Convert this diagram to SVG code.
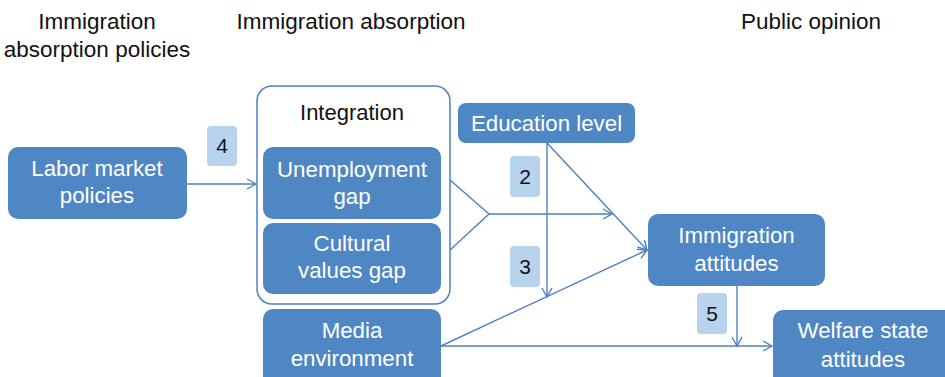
<svg xmlns="http://www.w3.org/2000/svg" width="945" height="377" viewBox="0 0 945 377">
  <defs>
    <marker id="arrow" markerWidth="12" markerHeight="12" refX="10" refY="6" orient="auto" markerUnits="userSpaceOnUse">
      <path d="M1,1 L10,6 L1,11" fill="none" stroke="#4a82c4" stroke-width="1.4"/>
    </marker>
  </defs>
  <style>
    .head { font-family: "Liberation Sans", Arial, sans-serif; font-size: 22.5px; fill: #111; text-anchor: middle; }
    .box { fill: #4f87c5; }
    .lbl { font-family: "Liberation Sans", Arial, sans-serif; font-size: 22.3px; fill: #ffffff; text-anchor: middle; }
    .badge { fill: #b8d3ee; }
    .num { font-family: "Liberation Sans", Arial, sans-serif; font-size: 21px; fill: #111; text-anchor: middle; }
    .edge { fill: none; stroke: #4a82c4; stroke-width: 1.4; }
  </style>
  <rect width="945" height="377" fill="#ffffff"/>

  <!-- column headings -->
  <g id="headings">
    <text class="head" x="97" y="29">Immigration</text>
    <text class="head" x="97" y="57">absorption policies</text>
    <text class="head" x="351" y="29">Immigration absorption</text>
    <text class="head" x="811" y="29">Public opinion</text>
  </g>

  <!-- integration container -->
  <g id="integration">
    <rect x="257" y="86" width="193" height="218" rx="15" fill="#ffffff" stroke="#4a82c4" stroke-width="1.5"/>
    <text x="352" y="120" font-family="Liberation Sans, Arial, sans-serif" font-size="22" fill="#111" text-anchor="middle">Integration</text>
  </g>

  <g id="labor-market">
    <rect class="box" x="8" y="147" width="179" height="72" rx="10"/>
    <text class="lbl" x="97" y="176">Labor market</text>
    <text class="lbl" x="97" y="203">policies</text>
  </g>

  <g id="unemployment-gap">
    <rect class="box" x="263" y="147" width="178" height="72" rx="10"/>
    <text class="lbl" x="352" y="177">Unemployment</text>
    <text class="lbl" x="352" y="204">gap</text>
  </g>

  <g id="cultural-values-gap">
    <rect class="box" x="263" y="223" width="178" height="71" rx="10"/>
    <text class="lbl" x="352" y="251">Cultural</text>
    <text class="lbl" x="352" y="278">values gap</text>
  </g>

  <g id="media-environment">
    <rect class="box" x="263" y="309" width="178" height="80" rx="10"/>
    <text class="lbl" x="352" y="338">Media</text>
    <text class="lbl" x="352" y="366">environment</text>
  </g>

  <g id="education-level">
    <rect class="box" x="458" y="103" width="177" height="40" rx="8"/>
    <text class="lbl" x="546.5" y="131">Education level</text>
  </g>

  <g id="immigration-attitudes">
    <rect class="box" x="648" y="214" width="177" height="72" rx="10"/>
    <text class="lbl" x="736.5" y="243">Immigration</text>
    <text class="lbl" x="736.5" y="271">attitudes</text>
  </g>

  <g id="welfare-state-attitudes">
    <rect class="box" x="773" y="310" width="185" height="80" rx="10"/>
    <text class="lbl" x="863" y="338">Welfare state</text>
    <text class="lbl" x="863" y="367">attitudes</text>
  </g>

  <!-- connectors -->
  <g id="connectors">
    <line class="edge" x1="187" y1="184" x2="256" y2="184" marker-end="url(#arrow)"/>
    <polyline class="edge" points="450,180 489,214 450,250"/>
    <line class="edge" x1="489" y1="214" x2="612" y2="214" marker-end="url(#arrow)"/>
    <line class="edge" x1="547" y1="143" x2="547" y2="297" marker-end="url(#arrow)"/>
    <line class="edge" x1="547" y1="143" x2="647" y2="250" marker-end="url(#arrow)"/>
    <line class="edge" x1="441" y1="346" x2="647" y2="250" marker-end="url(#arrow)"/>
    <line class="edge" x1="441" y1="346" x2="772" y2="346" marker-end="url(#arrow)"/>
    <line class="edge" x1="737" y1="286" x2="737" y2="346" marker-end="url(#arrow)"/>
  </g>

  <!-- path labels -->
  <g id="badge-4">
    <rect class="badge" x="207" y="126" width="30" height="40" rx="4"/>
    <text class="num" x="222" y="153">4</text>
  </g>
  <g id="badge-2">
    <rect class="badge" x="510" y="156" width="30" height="41" rx="4"/>
    <text class="num" x="525" y="184">2</text>
  </g>
  <g id="badge-3">
    <rect class="badge" x="510" y="246" width="30" height="41" rx="4"/>
    <text class="num" x="525" y="274">3</text>
  </g>
  <g id="badge-5">
    <rect class="badge" x="697" y="293" width="30" height="41" rx="4"/>
    <text class="num" x="712" y="321">5</text>
  </g>
</svg>
